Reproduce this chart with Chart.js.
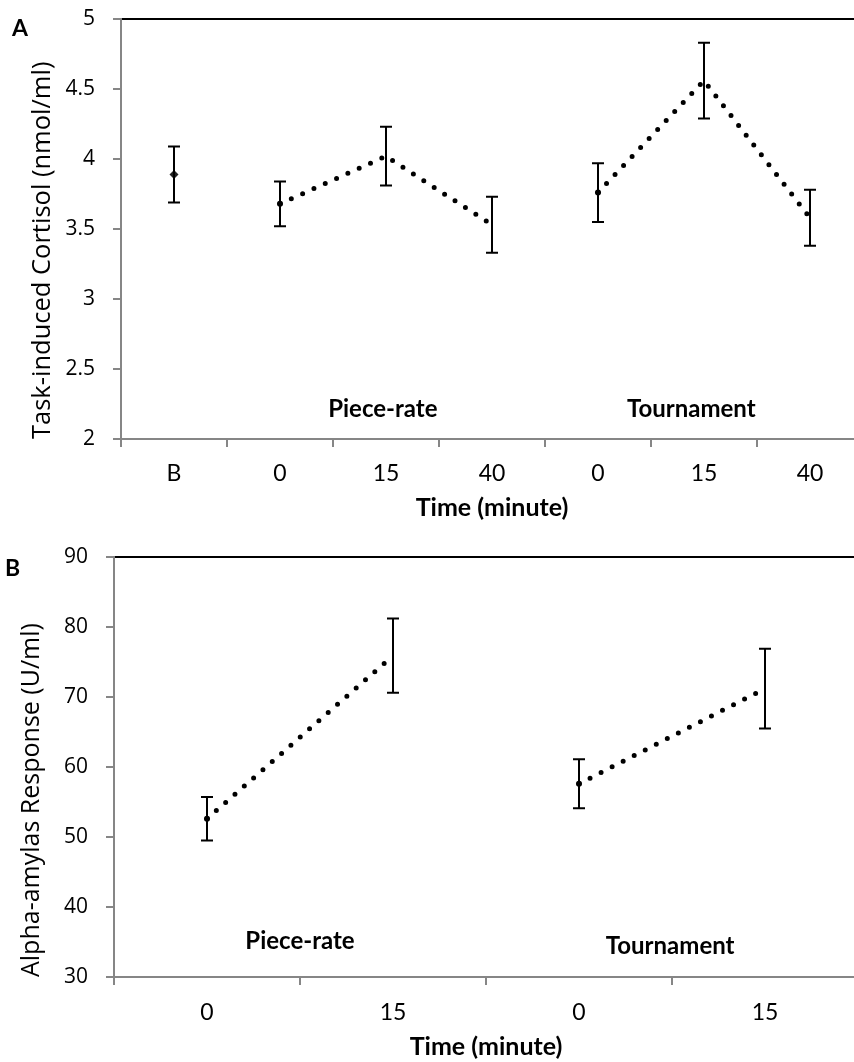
<!DOCTYPE html>
<html>
<head>
<meta charset="utf-8">
<title>Cortisol and alpha-amylase response</title>
<script src="https://cdn.jsdelivr.net/npm/chart.js@4.4.1/dist/chart.umd.min.js"></script>
<style>
    html, body { margin: 0; padding: 0; background: #fff; width: 854px; height: 1062px; overflow: hidden; }
    .panel { position: absolute; left: 0; }
    .panel canvas { display: block; }
    .letter { position: absolute; font: bold 23px Lato, sans-serif; line-height: 23px; color: #000; }
</style>
</head>
<body>
<div class="panel" style="top:0"><canvas id="cortisol-chart" width="863" height="530"></canvas></div>
<div class="panel" style="top:530px"><canvas id="amylase-chart" width="858" height="532"></canvas></div>
<div class="letter" style="left:12px;top:16px">A</div>
<div class="letter" style="left:5px;top:556px">B</div>
<script>
// panel A: task-induced cortisol
const cortisolLabels = ['B', '0', '15', '40', '0', '15', '40'];
const cortisolBaseline = [3.89, null, null, null, null, null, null];
const cortisolPieceRate = [null, 3.68, 4.02, 3.53, null, null, null];
const cortisolTournament = [null, null, null, null, 3.76, 4.56, 3.58];
const cortisolError = [0.20, 0.16, 0.21, 0.20, 0.21, 0.27, 0.20];
const cortisolTicks = [2, 2.5, 3, 3.5, 4, 4.5, 5];

// panel B: alpha-amylase response
const amylaseLabels = ['0', '15', '0', '15'];
const amylasePieceRate = [52.6, 75.9, null, null];
const amylaseTournament = [null, null, 57.6, 71.2];
const amylaseError = [3.1, 5.3, 3.5, 5.7];
const amylaseTicks = [30, 40, 50, 60, 70, 80, 90];

// group names written inside the plots, anchored in data units
const groupNames = ['Piece-rate', 'Tournament'];
const cortisolGroupX = [1.97, 4.88];
const cortisolGroupY = [2.21, 2.21];
const amylaseGroupX = [0.5, 2.49];
const amylaseGroupY = [35.1, 34.4];

const AXIS_GREY = '#868686';

const errorBarPlugin = {
    id: 'errorBars',
    afterDatasetsDraw(chart) {
        const { ctx } = chart;
        const x = chart.scales.x;
        const y = chart.scales.y;
        ctx.save();
        ctx.strokeStyle = '#000';
        ctx.lineWidth = 2;
        chart.data.datasets.forEach((ds) => {
            if (!ds.errors) return;
            ds.data.forEach((v, i) => {
                if (v === null) return;
                const px = x.getPixelForValue(i);
                const top = y.getPixelForValue(v + ds.errors[i]);
                const bottom = y.getPixelForValue(v - ds.errors[i]);
                ctx.beginPath();
                ctx.moveTo(px, top);
                ctx.lineTo(px, bottom);
                ctx.moveTo(px - 6, top);
                ctx.lineTo(px + 6, top);
                ctx.moveTo(px - 6, bottom);
                ctx.lineTo(px + 6, bottom);
                ctx.stroke();
            });
        });
        ctx.restore();
    },
};

const groupLabelPlugin = {
    id: 'groupLabels',
    afterDraw(chart, args, opts) {
        if (!opts || !opts.texts) return;
        const { ctx } = chart;
        ctx.save();
        ctx.fillStyle = '#000';
        ctx.font = 'bold 24px Lato, sans-serif';
        ctx.textAlign = 'center';
        ctx.textBaseline = 'middle';
        opts.texts.forEach((text, i) => {
            const px = chart.scales.x.getPixelForValue(opts.xs[i]);
            const py = chart.scales.y.getPixelForValue(opts.ys[i]);
            ctx.fillText(text, px, py);
        });
        ctx.restore();
    },
};

function firstIndex(arr) {
    return arr.findIndex((v) => v !== null);
}

function dottedSeries(values, errors) {
    const start = firstIndex(values);
    return {
        data: values,
        errors,
        borderColor: '#000',
        backgroundColor: '#000',
        borderWidth: 5,
        borderDash: [0, 12.4],
        borderCapStyle: 'round',
        tension: 0,
        spanGaps: false,
        pointRadius: (c) => (c.dataIndex === start ? 3 : 0),
        pointBackgroundColor: '#000',
        pointBorderWidth: 0,
    };
}

function buildOptions(cfg) {
    return {
        responsive: false,
        animation: false,
        events: [],
        layout: { padding: 0, autoPadding: false },
        plugins: {
            legend: { display: false },
            tooltip: { enabled: false },
            groupLabels: { texts: groupNames, xs: cfg.groupX, ys: cfg.groupY },
        },
        scales: {
            x: {
                type: 'category',
                offset: true,
                grid: { offset: true, drawOnChartArea: false, color: AXIS_GREY, tickLength: 8, lineWidth: 2 },
                border: { color: AXIS_GREY, width: 2 },
                ticks: { color: '#000', font: { family: 'Lato', size: 23 }, padding: cfg.xTickPad, maxRotation: 0, autoSkip: false },
                title: {
                    display: true,
                    text: 'Time (minute)',
                    color: '#000',
                    font: { family: 'Lato', size: 25, weight: 'bold' },
                    padding: { top: 0, bottom: cfg.xTitlePad },
                },
                afterFit: (s) => { s.height = cfg.bottomHeight; },
            },
            x2: {
                type: 'category',
                position: 'top',
                offset: true,
                ticks: { display: false },
                grid: { display: false },
                border: { color: '#000', width: 2 },
                afterFit: (s) => { s.height = cfg.topHeight; },
            },
            y: {
                min: cfg.ticks[0],
                max: cfg.ticks[cfg.ticks.length - 1],
                afterBuildTicks: (s) => { s.ticks = cfg.ticks.map((v) => ({ value: v })); },
                ticks: {
                    color: '#000',
                    font: { family: 'Open Sans', size: 21 },
                    padding: 18,
                    callback: (v) => String(v),
                },
                grid: { drawOnChartArea: false, color: AXIS_GREY, tickLength: 8, lineWidth: 2 },
                border: { color: AXIS_GREY, width: 2 },
                title: {
                    display: true,
                    text: cfg.yTitle,
                    align: 'start',
                    color: '#000',
                    font: { family: 'Open Sans', size: cfg.yTitleSize },
                    padding: { top: cfg.yTitlePad, bottom: 0 },
                },
                afterFit: (s) => {
                    s.width = cfg.axisWidth;
                    // the top and bottom boxes already leave room for the end labels
                    s.paddingTop = 0;
                    s.paddingBottom = 0;
                },
            },
        },
    };
}

function renderCortisolChart() {
    const canvas = document.getElementById('cortisol-chart');
    return new Chart(canvas, {
        type: 'line',
        data: {
            labels: cortisolLabels,
            datasets: [
                {
                    data: cortisolBaseline,
                    errors: cortisolError,
                    showLine: false,
                    pointStyle: 'rectRot',
                    pointRadius: 4.5,
                    pointBackgroundColor: '#222',
                    pointBorderWidth: 0,
                },
                dottedSeries(cortisolPieceRate, cortisolError),
                dottedSeries(cortisolTournament, cortisolError),
            ],
        },
        options: buildOptions({
            ticks: cortisolTicks,
            yTitle: 'Task-induced Cortisol (nmol/ml)',
            yTitleSize: 25.5,
            axisWidth: 121,
            topHeight: 19,
            bottomHeight: 91,
            xTickPad: 13,
            xTitlePad: 7,
            yTitlePad: 27,
            groupX: cortisolGroupX,
            groupY: cortisolGroupY,
        }),
        plugins: [errorBarPlugin, groupLabelPlugin],
    });
}

function renderAmylaseChart() {
    const canvas = document.getElementById('amylase-chart');
    return new Chart(canvas, {
        type: 'line',
        data: {
            labels: amylaseLabels,
            datasets: [
                dottedSeries(amylasePieceRate, amylaseError),
                dottedSeries(amylaseTournament, amylaseError),
            ],
        },
        options: buildOptions({
            ticks: amylaseTicks,
            yTitle: 'Alpha-amylas Response (U/ml)',
            yTitleSize: 25,
            axisWidth: 114,
            topHeight: 27,
            bottomHeight: 85,
            xTickPad: 14,
            xTitlePad: 0,
            yTitlePad: 17,
            groupX: amylaseGroupX,
            groupY: amylaseGroupY,
        }),
        plugins: [errorBarPlugin, groupLabelPlugin],
    });
}

renderCortisolChart();
renderAmylaseChart();
</script>
</body>
</html>
